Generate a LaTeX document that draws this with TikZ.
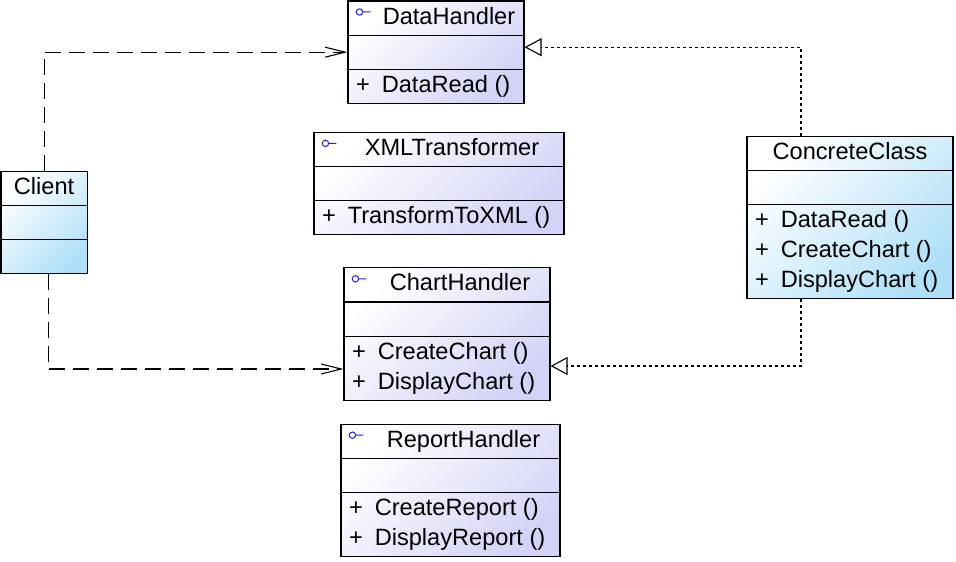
\documentclass[tikz,border=0pt]{standalone}
\usepackage{fontspec}
\setmainfont{Liberation Sans}
\usetikzlibrary{arrows.meta,positioning,shapes.multipart}
\definecolor{ifacelav}{HTML}{D3D3F7}
\definecolor{clsblue}{HTML}{B0E0F8}
\definecolor{iconblue}{HTML}{1E1EE6}
\newcommand{\op}[1]{+\hspace{6pt}#1 ()}
\newcommand{\ops}[1]{\begin{tabular}{@{}l@{}}#1\end{tabular}}
\newcommand{\ititle}[1]{\strut\hspace*{13pt}#1}

\begin{document}
\begin{tikzpicture}[x=0.5pt,y=-0.5pt,node distance=14pt,
  font=\fontsize{11.8}{15}\selectfont,line width=0.55pt,
  uml/.style={draw,rectangle split,rectangle split parts=3,inner xsep=4pt,inner ysep=0.75pt,
    rectangle split part align={center,left,left}},
  iface/.style={uml,top color=white,bottom color=ifacelav,shading angle=45},
  cls/.style={uml,top color=white,bottom color=clsblue,shading angle=45},
  dep/.style={dash pattern=on 8pt off 4pt,-{Straight Barb[length=10pt,width=5pt]}},
  real/.style={dash pattern=on 1.5pt off 1.5pt,-{Triangle[open,length=8.5pt,width=9pt]}},
  ifaceicon/.pic={\draw[iconblue,line width=0.5pt] (12,11.5) circle (3.2) (15.2,11.5) -- (23,11.5);}]
\useasboundingbox (0,0) rectangle (956,561);
\node[iface,minimum width=88pt,anchor=north](dh) at (436,0.5)
  {\ititle{DataHandler}\nodepart{two}\strut\nodepart{three}\ops{\op{DataRead}}};
\node[iface,minimum width=125pt,below=14pt of dh,xshift=1.5pt](xml)
  {\ititle{XMLTransformer}\nodepart{two}\strut\nodepart{three}\ops{\op{TransformToXML}}};
\node[iface,minimum width=103pt,below=16pt of xml,xshift=4pt](ch)
  {\ititle{ChartHandler}\nodepart{two}\strut\nodepart{three}\ops{\op{CreateChart}\\\op{DisplayChart}}};
\node[iface,minimum width=109.5pt,below=11.5pt of ch,xshift=1.75pt](rh)
  {\ititle{ReportHandler}\nodepart{two}\strut\nodepart{three}\ops{\op{CreateReport}\\\op{DisplayReport}}};
\node[cls,minimum width=43pt,anchor=north west](cl) at (0.5,171)
  {\strut Client\nodepart{two}\strut\nodepart{three}\strut};
\node[cls,minimum width=103pt,anchor=north](cc) at (850,136)
  {\strut ConcreteClass\nodepart{two}\strut\nodepart{three}\ops{\op{DataRead}\\\op{CreateChart}\\\op{DisplayChart}}};
% interface markers
\pic at (dh.north west) {ifaceicon};
\pic at (xml.north west) {ifaceicon};
\pic at (ch.north west) {ifaceicon};
\pic at (rh.north west) {ifaceicon};
% dependencies and realizations
\draw[dep] (cl.north) |- (dh.west);
\draw[dep] ([xshift=2pt]cl.south) |- ([yshift=-17.5pt]ch.west);
\draw[real] ([xshift=-24.5pt]cc.north) |- ([yshift=2.5pt]dh.east);
\draw[real] ([xshift=-24.5pt]cc.south) |- ([yshift=-16pt]ch.east);
\end{tikzpicture}
\end{document}
